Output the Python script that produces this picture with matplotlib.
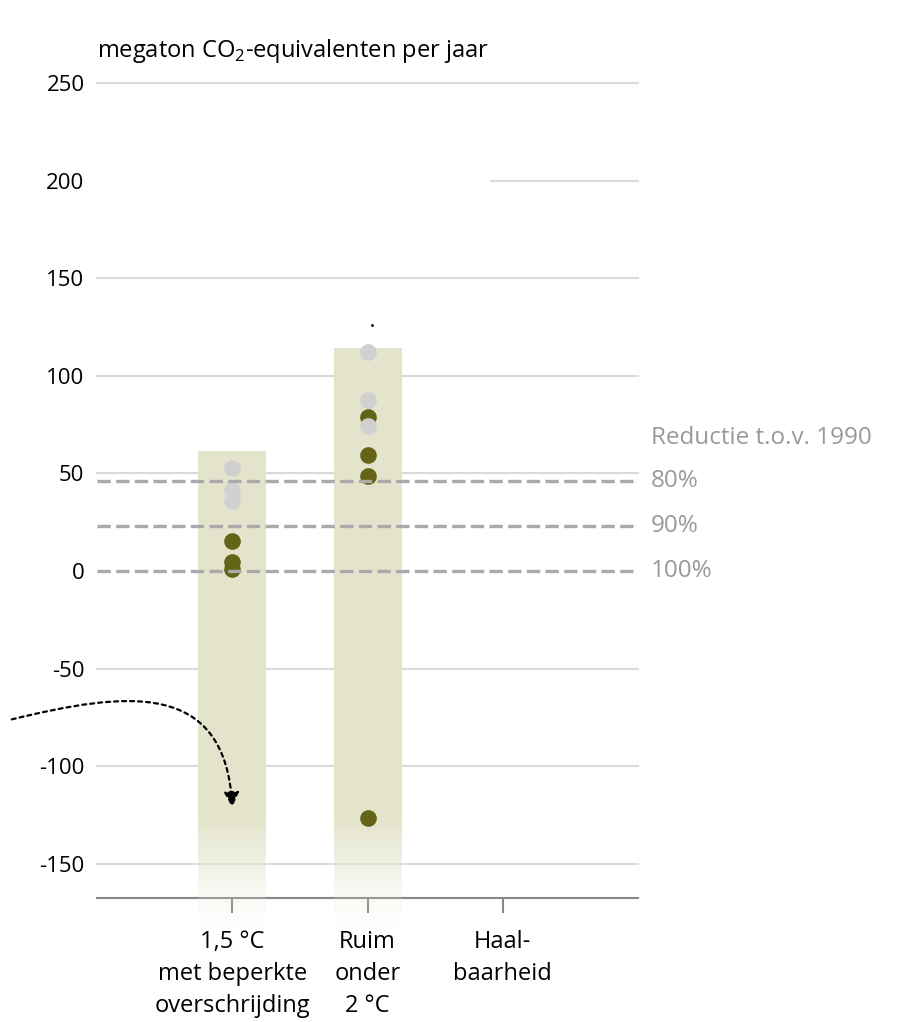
import numpy as np
import matplotlib
matplotlib.use("Agg")
import matplotlib.pyplot as plt
from matplotlib.path import Path
from matplotlib.patches import FancyArrowPatch

plt.rcParams['font.family'] = ['Open Sans', 'DejaVu Sans']

# ---------------------------------------------------------------------------
# Data
# ---------------------------------------------------------------------------
categories = ["1,5 °C\nmet beperkte\noverschrijding", "Ruim\nonder\n2 °C", "Haal-\nbaarheid"]
bar_tops = [61, 114, None]                     # top of the shaded range
gray_points = [[53, 41.5, 36], [112, 87.5, 74.5], []]
olive_points = [[15.5, 4.5, 1.0], [79, 59.5, 48.5, -126.5], []]
reduction_levels = [46, 23, 0]
reduction_labels = ["80%", "90%", "100%"]
y_ticks = [250, 200, 150, 100, 50, 0, -50, -100, -150]

BAR_C = "#e4e4cc"
OLIVE = "#646416"
LGRAY = "#d0d0d0"
DASH = "#aaaaaa"
GRID = "#dadada"

fig = plt.figure(figsize=(9.02, 10.22), dpi=100)
ax = fig.add_axes([97 / 902, 1 - 898 / 1022, (638 - 97) / 902, (898 - 83) / 1022])
ax.set_xlim(-1, 3)
ax.set_ylim(-167.5, 250)

x = np.arange(len(categories))

# gridlines (the 200 line is only drawn on the right part)
for yv in y_ticks:
    if yv == 0:
        continue
    x0 = 1.91 if yv == 200 else -1
    ax.plot([x0, 3], [yv, yv], color=GRID, lw=1.5, zorder=1, clip_on=False)

# shaded bars, solid at the top and fading out at the bottom
fade_top, fade_bot = -128, -185
for xi, top in zip(x, bar_tops):
    if top is None:
        continue
    yy = np.linspace(top, fade_bot, 600)
    alpha = np.clip((yy - fade_bot) / (fade_top - fade_bot), 0, 1) ** 1.4
    img = np.zeros((len(yy), 1, 4))
    img[..., :3] = matplotlib.colors.to_rgb(BAR_C)
    img[:, 0, 3] = alpha
    ax.imshow(img, extent=[xi - 0.25, xi + 0.25, fade_bot, top],
              aspect="auto", zorder=2, clip_on=False, interpolation="nearest")

# points
for xi, g, o in zip(x, gray_points, olive_points):
    ax.plot([xi] * len(o), o, "o", ms=12, color=OLIVE, mec="none", zorder=3)
    ax.plot([xi] * len(g), g, "o", ms=12, color=LGRAY, mec="none", zorder=3.5)

# tiny stray mark above the second bar
ax.plot([1.03], [126], "o", ms=1, color="black", zorder=3)

# reduction dashed lines
for yv, lab in zip(reduction_levels, reduction_labels):
    ax.plot([-1, 3], [yv, yv], color=DASH, lw=2.4, ls=(0, (4, 1.6)),
            zorder=4, clip_on=False, dash_capstyle="butt")
    ax.text(3.097, yv, lab, color="#999999", fontsize=17.5, va="center",
            ha="left", clip_on=False)
ax.text(3.097, 68, "Reductie t.o.v. 1990", color="#999999", fontsize=17.5,
        va="center", ha="left", clip_on=False)

# dotted arrow coming in from the left
verts = [(-1.63, -76), (-0.8, -62), (-0.05, -55), (0.0, -121)]
path = Path(verts, [Path.MOVETO, Path.CURVE4, Path.CURVE4, Path.CURVE4])
arrow = FancyArrowPatch(path=path, arrowstyle="-|>,head_length=9,head_width=4.5",
                        color="black", lw=1.6, ls=(0, (1.8, 1.8)), clip_on=False,
                        zorder=5)
ax.add_patch(arrow)

# axes styling
for s in ["top", "right", "left"]:
    ax.spines[s].set_visible(False)
ax.spines["bottom"].set_color("#888888")
ax.spines["bottom"].set_linewidth(1.5)
ax.spines["bottom"].set_zorder(1.5)

ax.set_yticks(y_ticks)
ax.set_yticklabels([str(v) for v in y_ticks], fontsize=16)
ax.tick_params(axis="y", length=0, pad=9)
ax.set_xticks(x)
ax.set_xticklabels(categories, fontsize=17, linespacing=1.45)
ax.tick_params(axis="x", length=11, width=1.5, color="#888888", pad=12)

fig.text(97 / 902, 1 - 57 / 1022, r"megaton CO$_\mathregular{2}$-equivalenten per jaar",
         fontsize=17, ha="left", va="baseline")

fig.savefig("out.png", dpi=100)
